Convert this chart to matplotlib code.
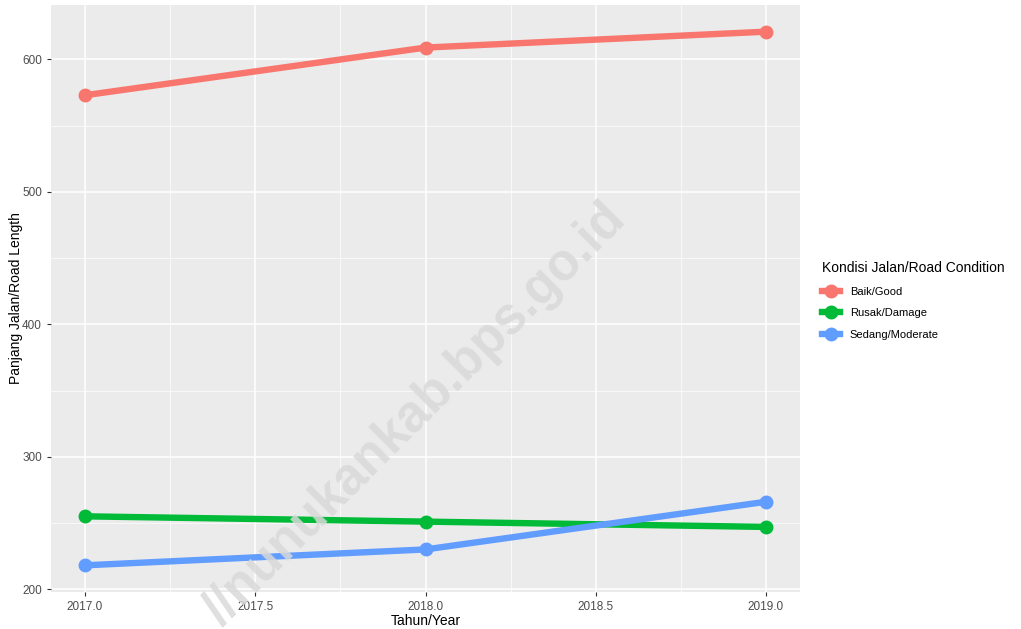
import numpy as np
import matplotlib
matplotlib.use('Agg')
import matplotlib.pyplot as plt
from matplotlib.lines import Line2D

years = [2017, 2018, 2019]
conditions = ["Baik/Good", "Rusak/Damage", "Sedang/Moderate"]
baik = [573, 609, 621]
rusak = [255, 251, 247]
sedang = [218, 230, 266]
colors = ["#F8766D", "#00BA38", "#619CFF"]
xticks = [2017.0, 2017.5, 2018.0, 2018.5, 2019.0]
yticks = [200, 300, 400, 500, 600]

plt.rcParams['font.family'] = ['Liberation Sans', 'DejaVu Sans']

fig = plt.figure(figsize=(10.21, 6.29), dpi=100)
ax = fig.add_axes([51/1021, 1 - 592/629, 749/1021, 587/629])
ax.set_facecolor("#EBEBEB")

for vals, c in zip([baik, rusak, sedang], colors):
    ax.plot(years, vals, color=c, lw=4.6, marker='o', ms=9, solid_capstyle='butt', zorder=3)

# ggplot-like 5% expansion
allv = baik + rusak + sedang
lo, hi = min(allv), max(allv)
pad = (hi - lo) * 0.05
ax.set_ylim(lo - pad, hi + pad)
ax.set_xlim(2017 - 0.1, 2019 + 0.1)

ax.set_xticks(xticks)
ax.set_xticklabels([f"{v:.1f}" for v in xticks])
ax.set_yticks(yticks)
ax.set_xticks([2017.25, 2017.75, 2018.25, 2018.75], minor=True)
ax.set_yticks([250, 350, 450, 550], minor=True)
ax.grid(which='major', color='white', lw=1.1)
ax.grid(which='minor', color='white', lw=0.5)
ax.set_axisbelow(True)
for s in ax.spines.values():
    s.set_visible(False)
ax.tick_params(which='major', colors='#333333', labelcolor='#4D4D4D', labelsize=8.5, length=3)
ax.tick_params(which='minor', length=0)
ax.set_xlabel("Tahun/Year", fontsize=10, labelpad=1)
ax.set_ylabel("Panjang Jalan/Road Length", fontsize=10, labelpad=-1)

handles = [Line2D([], [], color=c, lw=4.6, marker='o', ms=9) for c in colors]
leg = fig.legend(handles, conditions, title="Kondisi Jalan/Road Condition",
                 loc='upper left', bbox_to_anchor=(812/1021, 1 - 251/629),
                 frameon=False, fontsize=8, title_fontsize=10,
                 handlelength=1.6, handletextpad=0.9, labelspacing=1.05)
leg._legend_box.align = "left"

fig.text(415/1021, 1 - 415/629, "//nunukankab.bps.go.id", rotation=45,
         fontsize=37, fontweight='bold', color='#D9D9D9', alpha=0.85,
         ha='center', va='center', zorder=10)

plt.savefig("out.png", dpi=100)
plt.close()
